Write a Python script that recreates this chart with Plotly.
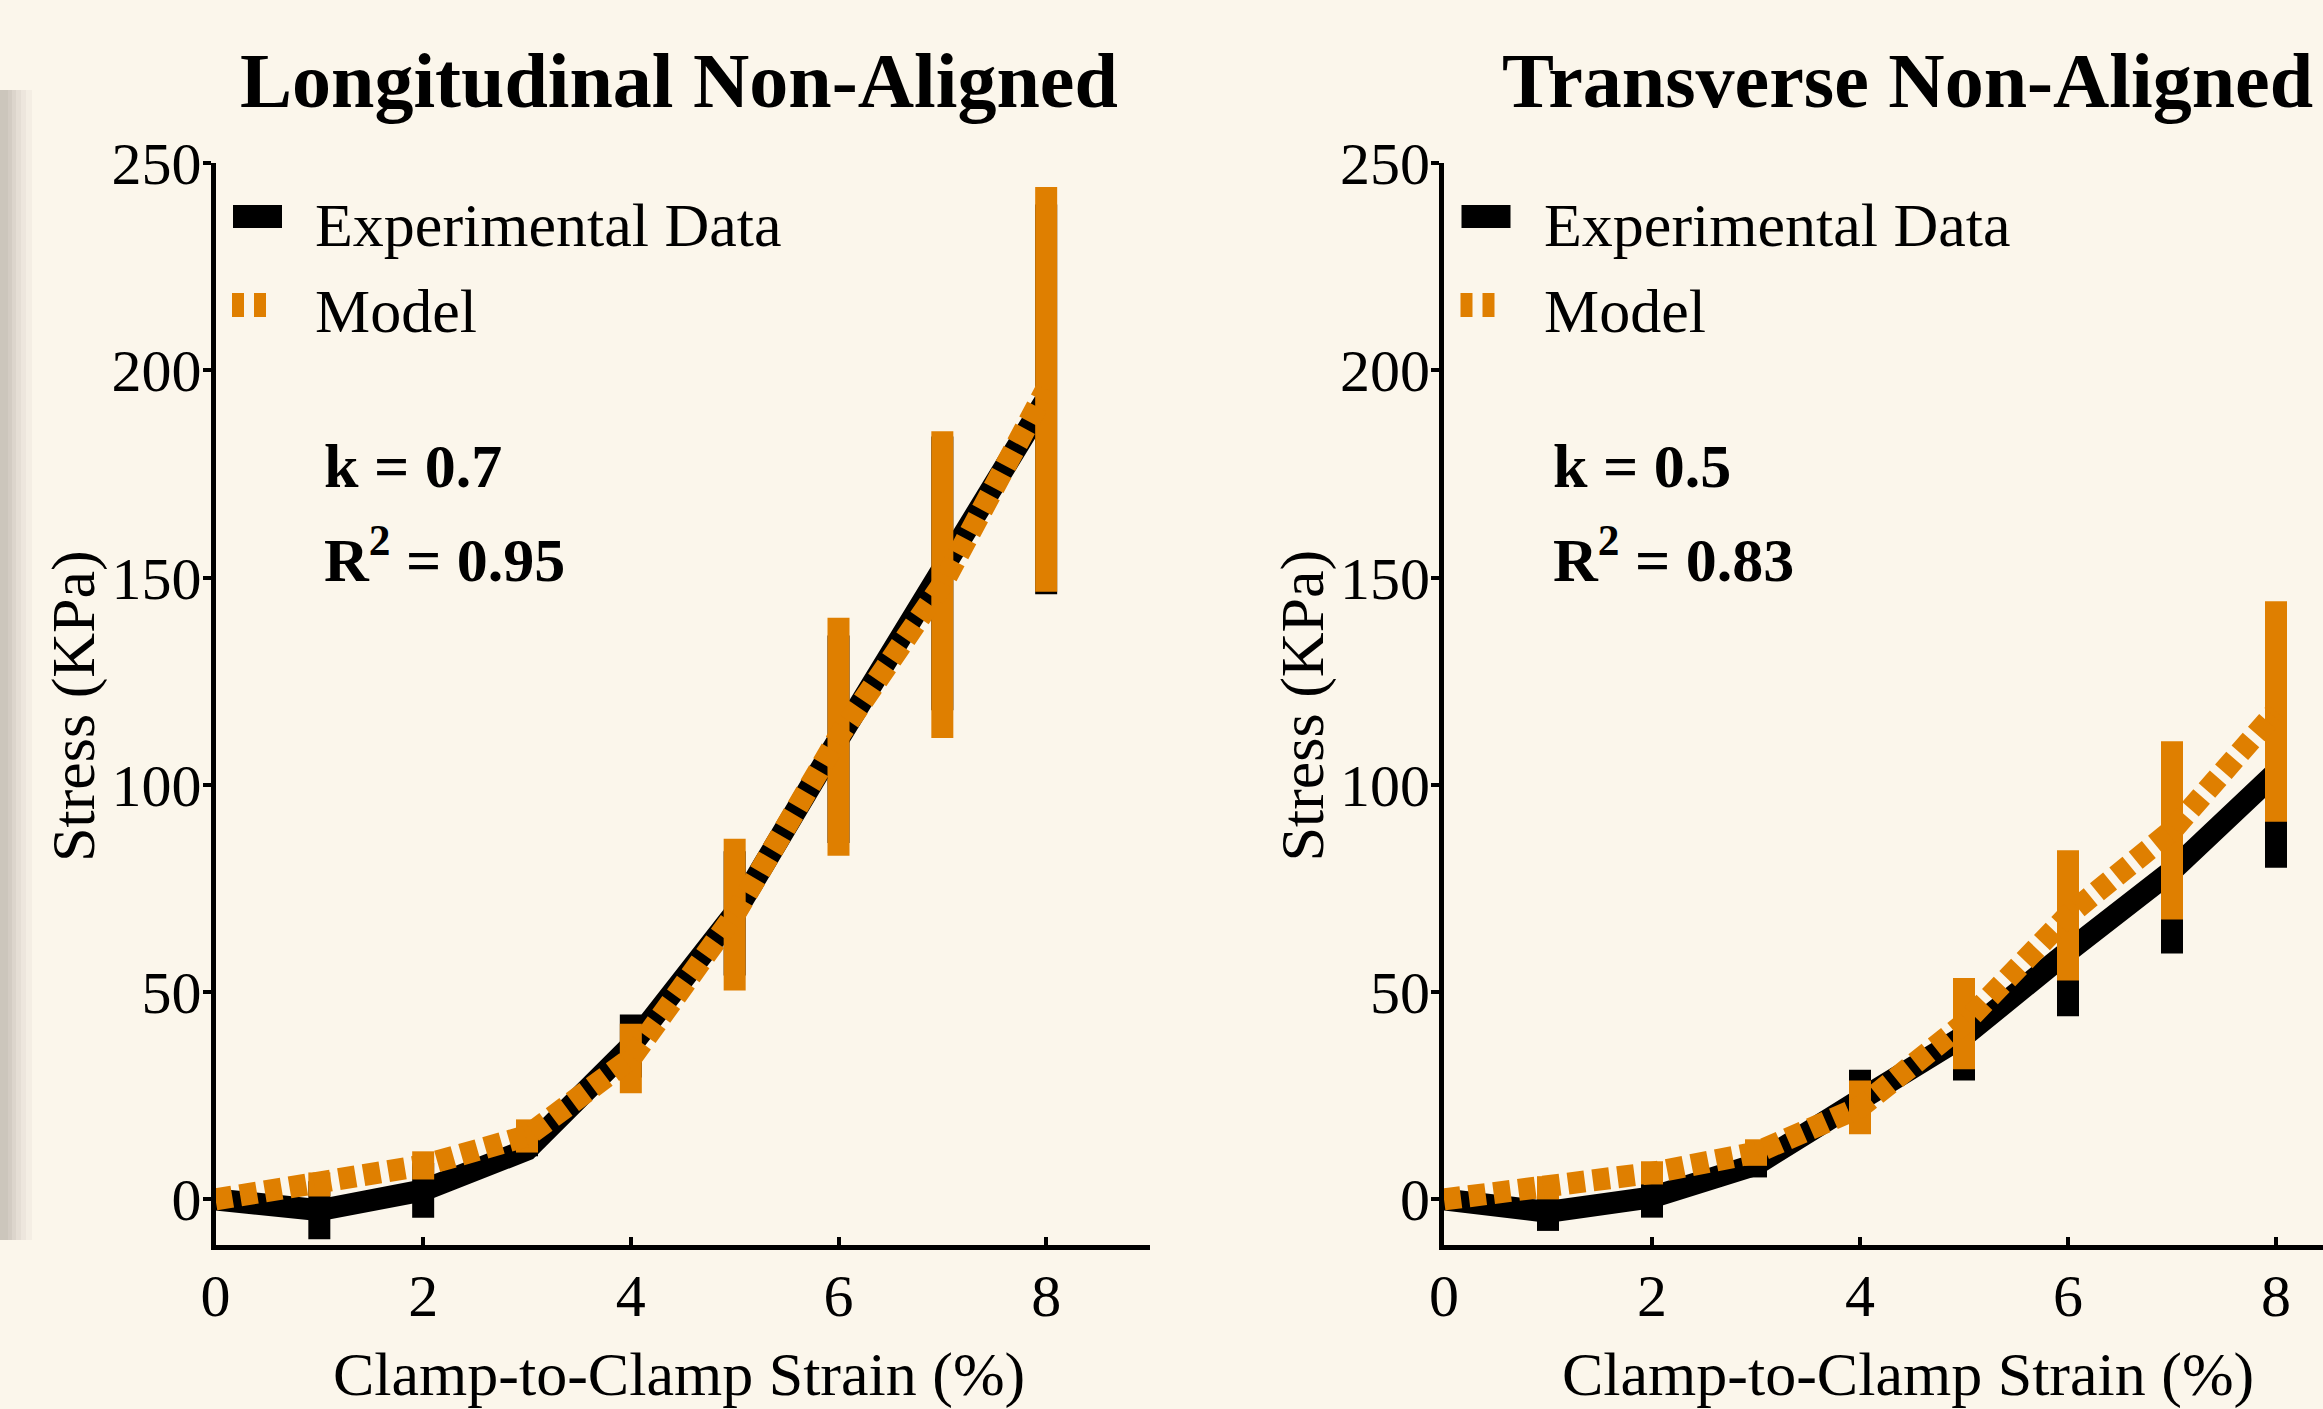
import plotly.graph_objects as go

# ---------------- data ----------------
strain = [0, 1, 2, 3, 4, 5, 6, 7, 8]

long_exp = [0, -2.6, 2.2, 12, 37, 69, 111, 151, 193]
long_exp_sd = [0, 7, 6.6, 1.6, 7.6, 15, 25, 33, 47]
long_model = [0, 3.6, 8.2, 15.3, 34, 68.7, 111.6, 148.3, 195.4]
long_model_sd = [0, 2.9, 3.4, 4.0, 8.4, 18.3, 28.7, 37, 48.8]

trans_exp = [0, -3, 0.5, 8.4, 24, 39.4, 59.8, 79.3, 103]
trans_exp_sd = [0, 4.6, 4.9, 3.1, 7.3, 10.7, 15.6, 20, 23]
trans_model = [0, 2.8, 6.4, 11.3, 22.2, 42.4, 68.5, 89, 117.7]
trans_model_sd = [0, 2.8, 2.8, 3.2, 6.5, 11, 15.7, 21.5, 26.6]

titles = ["Longitudinal Non-Aligned", "Transverse Non-Aligned"]
k_labels = ["k = 0.7", "k = 0.5"]
r2_labels = ["R<sup>2</sup> = 0.95", "R<sup>2</sup> = 0.83"]
series_names = ["Experimental Data", "Model"]
x_ticks = [0, 2, 4, 6, 8]
y_ticks = [0, 50, 100, 150, 200, 250]

# ---------------- style ----------------
W, H = 2323, 1409
BG = "#FBF6EB"
ORANGE = "#DF7F00"
FONT = "Liberation Serif"
LW = 22
EBW = 22
PANEL_DX = 1228.5  # pixel offset of the right panel relative to the left one


def px_x(p):
    return p / W


def px_y(p):
    return 1 - p / H


fig = go.Figure()

panels = [
    (long_exp, long_exp_sd, long_model, long_model_sd, "x", "y"),
    (trans_exp, trans_exp_sd, trans_model, trans_model_sd, "x2", "y2"),
]

for exp, exp_sd, mod, mod_sd, xa, ya in panels:
    fig.add_trace(go.Scatter(
        x=strain, y=exp, mode="lines", name=series_names[0],
        line=dict(color="black", width=LW),
        error_y=dict(type="data", array=exp_sd, color="black", thickness=EBW, width=0),
        xaxis=xa, yaxis=ya, showlegend=False,
    ))
    fig.add_trace(go.Scatter(
        x=strain, y=mod, mode="lines", name=series_names[1],
        line=dict(color=ORANGE, width=LW, dash="17px,8px"),
        error_y=dict(type="data", array=mod_sd, color=ORANGE, thickness=EBW, width=0),
        xaxis=xa, yaxis=ya, showlegend=False,
    ))

y_dom = [px_y(1245), px_y(163)]
axis_common = dict(
    showline=True, linecolor="black", linewidth=5, showgrid=False, zeroline=False,
    tickfont=dict(family=FONT, size=60, color="black"),
    tickcolor="black", tickwidth=4, ticklen=8, automargin=False,
)
fig.update_layout(
    xaxis=dict(domain=[px_x(215.5), px_x(1150)], range=[0, 9], tickvals=x_ticks,
               ticks="inside", anchor="y", ticklabelstandoff=-6, **axis_common),
    yaxis=dict(domain=y_dom, range=[-11, 250], tickvals=y_ticks,
               ticks="outside", anchor="x", ticklabelstandoff=-11, **axis_common),
    xaxis2=dict(domain=[px_x(1444), 1.0], range=[0, (W - 1444) / 104.0], tickvals=x_ticks,
                ticks="inside", anchor="y2", ticklabelstandoff=-6, **axis_common),
    yaxis2=dict(domain=y_dom, range=[-11, 250], tickvals=y_ticks,
                ticks="outside", anchor="x2", ticklabelstandoff=-11, **axis_common),
)

annotations = []
shapes = []
for i in range(2):
    dx = i * PANEL_DX
    ya = "y" if i == 0 else "y2"
    # panel title
    annotations.append(dict(
        text="<b>%s</b>" % titles[i], xref="paper", yref="paper",
        x=px_x(679 + dx), y=px_y(81),
        xanchor="center", yanchor="middle", showarrow=False,
        font=dict(family=FONT, size=78, color="black")))
    # fit parameters
    annotations.append(dict(
        text="<b>%s</b>" % k_labels[i], xref="paper", yref=ya, x=px_x(322 + dx), y=177,
        xanchor="left", yanchor="middle", showarrow=False,
        font=dict(family=FONT, size=62, color="black")))
    annotations.append(dict(
        text="<b>%s</b>" % r2_labels[i], xref="paper", yref=ya, x=px_x(322 + dx), y=155.5,
        xanchor="left", yanchor="middle", showarrow=False,
        font=dict(family=FONT, size=62, color="black")))
    # x axis title
    annotations.append(dict(
        text="Clamp-to-Clamp Strain (%)", xref="paper", yref="paper",
        x=px_x(679 + dx), y=px_y(1374),
        xanchor="center", yanchor="middle", showarrow=False,
        font=dict(family=FONT, size=62, color="black")))
    # y axis title
    annotations.append(dict(
        text="Stress (KPa)", xref="paper", yref="paper", x=px_x(73 + dx), y=px_y(706),
        xanchor="center", yanchor="middle", textangle=-90, showarrow=False,
        font=dict(family=FONT, size=62, color="black")))
    # legend (text + symbols)
    annotations.append(dict(
        text=series_names[0], xref="paper", yref="paper", x=px_x(313 + dx), y=px_y(225),
        xanchor="left", yanchor="middle", showarrow=False,
        font=dict(family=FONT, size=62, color="black")))
    annotations.append(dict(
        text=series_names[1], xref="paper", yref="paper", x=px_x(313 + dx), y=px_y(311),
        xanchor="left", yanchor="middle", showarrow=False,
        font=dict(family=FONT, size=62, color="black")))
    shapes.append(dict(type="rect", xref="paper", yref="paper",
                       x0=px_x(233 + dx), x1=px_x(282 + dx), y0=px_y(228), y1=px_y(205),
                       fillcolor="black", line=dict(width=0)))
    for sx in (232, 254):
        shapes.append(dict(type="rect", xref="paper", yref="paper",
                           x0=px_x(sx + dx), x1=px_x(sx + 12 + dx), y0=px_y(317), y1=px_y(293),
                           fillcolor=ORANGE, line=dict(width=0)))

# soft shadow along the left edge
for w, a in [(32, 0.05), (26, 0.05), (21, 0.06), (16, 0.07), (12, 0.08), (8, 0.06)]:
    shapes.append(dict(type="rect", xref="paper", yref="paper", x0=0, x1=px_x(w),
                       y0=px_y(1240), y1=px_y(90), fillcolor="rgb(110,105,90)",
                       opacity=a, line=dict(width=0), layer="below"))

fig.update_layout(
    width=W, height=H, margin=dict(l=0, r=0, t=0, b=0, pad=0, autoexpand=False),
    paper_bgcolor=BG, plot_bgcolor=BG,
    font=dict(family=FONT, color="black"),
    showlegend=False,
    annotations=annotations, shapes=shapes,
)

fig.write_html("out.html", config={"displayModeBar": False},
               post_script="document.body.style.margin='0px';")
